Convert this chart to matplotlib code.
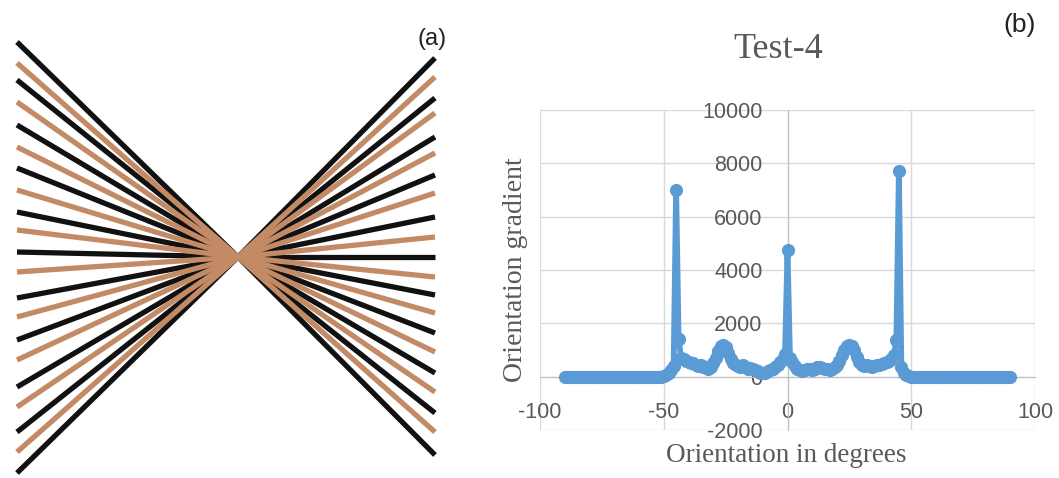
import numpy as np
import matplotlib
matplotlib.use("Agg")
import matplotlib.pyplot as plt

plt.rcParams['axes.unicode_minus'] = False

# (a) rays of the test pattern, pixel coordinates of the panel
centro = (238, 257)
borda_esq = 17
borda_dir = 435
y_esq = [42, 63, 80, 102, 125, 147, 168, 190, 212, 230, 252,
         272, 298, 317, 340, 360, 387, 407, 432, 452, 473]
y_dir = [58, 77, 98, 113, 137, 153, 175, 193, 217, 237, 257,
         277, 295, 313, 333, 352, 373, 392, 413, 432, 455]
cores_raio = ['#111111', '#c38a66']

# (b) Test-4 orientation gradient
angulos = np.arange(-90, 91)
gradiente = [
    0, 0, 0, 0, 0, 0, 0, 0, 0, 0,            # -90..-81
    0, 0, 0, 0, 0, 0, 0, 0, 0, 0,            # -80..-71
    0, 0, 0, 0, 0, 0, 0, 0, 0, 0,            # -70..-61
    0, 0, 0, 0, 0, 0, 0, 0, 0, 0,            # -60..-51
    20, 60, 120, 250, 400, 7000, 1420, 700, 650, 600,      # -50..-41
    550, 500, 520, 450, 400, 450, 380, 350, 300, 350,      # -40..-31
    500, 700, 950, 1150, 1200, 1100, 900, 650, 500, 450,   # -30..-21
    400, 380, 420, 350, 300, 320, 280, 250, 200, 150,      # -20..-11
    120, 150, 200, 250, 300, 350, 450, 550, 650, 850,      # -10..-1
    4750,                                                  # 0
    700, 550, 400, 300, 250, 220, 250, 280, 300, 250,      # 1..10
    300, 350, 380, 330, 300, 280, 250, 300, 350, 450,      # 11..20
    600, 800, 1000, 1150, 1200, 1150, 1000, 750, 550, 450, # 21..30
    400, 420, 400, 380, 400, 450, 420, 480, 500, 550,      # 31..40
    600, 650, 800, 1390, 7700, 350, 150, 60, 20, 0,        # 41..50
    0, 0, 0, 0, 0, 0, 0, 0, 0, 0,            # 51..60
    0, 0, 0, 0, 0, 0, 0, 0, 0, 0,            # 61..70
    0, 0, 0, 0, 0, 0, 0, 0, 0, 0,            # 71..80
    0, 0, 0, 0, 0, 0, 0, 0, 0, 0,            # 81..90
]
ticks_x = [-100, -50, 0, 50, 100]
ticks_y = [-2000, 0, 2000, 4000, 6000, 8000, 10000]

cinza = '#595959'


def painel_a(fig):
    ax = fig.add_axes([0, 0, 460 / 1059, 1])
    ax.set_xlim(0, 460)
    ax.set_ylim(478, 0)
    ax.axis('off')
    for i, (ye, yd) in enumerate(zip(y_esq, y_dir)):
        cor = cores_raio[i % 2]
        z = 2 if i % 2 else 1
        ax.plot([borda_esq, centro[0]], [ye, centro[1]], color=cor, lw=3.8,
                solid_capstyle='butt', zorder=z)
        ax.plot([centro[0], borda_dir], [centro[1], yd], color=cor, lw=3.8,
                solid_capstyle='butt', zorder=z)
    fig.text(432 / 1059, 1 - 39 / 478, '(a)', ha='center', va='center',
             fontsize=17, family='Liberation Sans', color='#222222')


def painel_b(fig):
    ax = fig.add_axes([540 / 1059, 1 - 430 / 478, 495 / 1059, 320 / 478])
    ax.plot(angulos, gradiente, color='#5b9bd5', lw=4.2, marker='o', ms=9.5,
            mew=0, solid_joinstyle='round', zorder=3, clip_on=False)
    ax.set_xlim(-100, 100)
    ax.set_ylim(-2000, 10000)
    ax.set_xticks(ticks_x)
    ax.set_yticks(ticks_y)
    ax.grid(color='#d9d9d9', linewidth=1)
    ax.set_axisbelow(True)
    for lado in ['top', 'right']:
        ax.spines[lado].set_visible(False)
    ax.spines['left'].set_position(('data', 0))
    ax.spines['bottom'].set_position(('data', 0))
    ax.spines['left'].set_color('#bfbfbf')
    ax.spines['bottom'].set_color('#bfbfbf')
    ax.tick_params(axis='both', length=0, pad=18, labelsize=15.5,
                   labelcolor=cinza)
    for lbl in ax.get_xticklabels() + ax.get_yticklabels():
        lbl.set_family('Liberation Sans')

    fig.text(778 / 1059, 1 - 50 / 478, 'Test-4', ha='center', va='center',
             fontsize=26, family='Liberation Serif', color=cinza)
    fig.text(786 / 1059, 1 - 456 / 478, 'Orientation in degrees',
             ha='center', va='center', fontsize=19.5, family='Liberation Serif',
             color=cinza)
    fig.text(515 / 1059, 1 - 270 / 478, 'Orientation gradient',
             ha='center', va='center', rotation=90, fontsize=20,
             family='Liberation Serif', color=cinza)
    fig.text(1020 / 1059, 1 - 25 / 478, '(b)', ha='center', va='center',
             fontsize=19, family='Liberation Sans', color='#222222')


if __name__ == '__main__':
    fig = plt.figure(figsize=(10.59, 4.78), dpi=100)
    painel_a(fig)
    painel_b(fig)
    fig.savefig('out.png', dpi=100)
